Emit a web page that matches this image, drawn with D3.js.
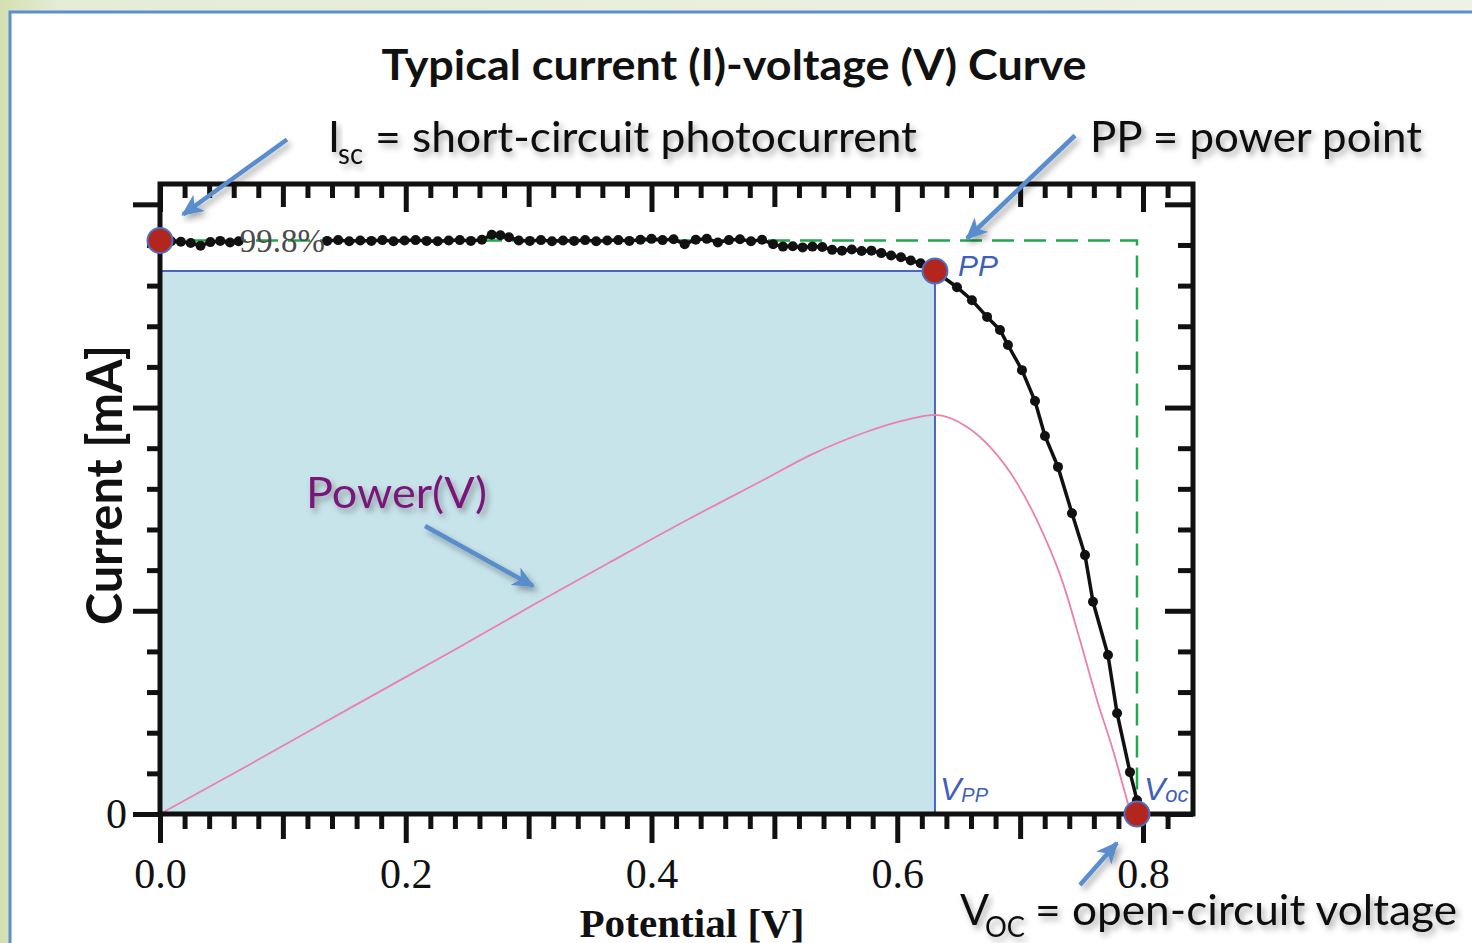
<!DOCTYPE html>
<html>
<head>
<meta charset="utf-8">
<script src="https://cdn.jsdelivr.net/npm/d3@7"></script>
<style>
  body { margin: 0; overflow: hidden; background: #fff }
  svg { display: block }
</style>
</head>
<body>
<svg id="chart" width="1472" height="943"></svg>
<script>
// I-V curve: [potential V, current (plot units)], null = gap under the 99.8% label
var ivCurve = [
  [0, 14.11], [.009, 14.09], [.017, 14.08], [.025, 14.05], [.033, 13.98], [.041, 14.07],
  [.049, 14.10], [.057, 14.06], [.064, 14.09], [.100, null],
  [.136, 14.10], [.145, 14.12], [.154, 14.09], [.163, 14.11], [.172, 14.10], [.181, 14.12],
  [.190, 14.09], [.199, 14.11], [.208, 14.12], [.217, 14.10], [.226, 14.09], [.235, 14.11],
  [.244, 14.12], [.253, 14.10], [.262, 14.13], [.270, 14.25], [.277, 14.24], [.284, 14.19],
  [.292, 14.11], [.301, 14.10], [.310, 14.12], [.319, 14.09], [.328, 14.11], [.337, 14.10],
  [.346, 14.12], [.355, 14.09], [.364, 14.11], [.373, 14.12], [.382, 14.10], [.391, 14.13],
  [.400, 14.15], [.409, 14.12], [.418, 14.14], [.427, 14.02], [.436, 14.13], [.445, 14.15],
  [.454, 14.06], [.463, 14.12], [.472, 14.14], [.481, 14.09], [.490, 14.13], [.499, 14.02],
  [.507, 13.96], [.515, 13.97], [.523, 13.94], [.531, 13.96], [.539, 13.95], [.547, 13.88],
  [.555, 13.86], [.563, 13.89], [.571, 13.85], [.579, 13.86], [.587, 13.80], [.595, 13.74],
  [.603, 13.70], [.611, 13.62], [.619, 13.55], [.6307, 13.36],
  [.6486, 12.96], [.6608, 12.64], [.6731, 12.23], [.6836, 11.91], [.6901, 11.54], [.7015, 10.92],
  [.7121, 10.16], [.7202, 9.30], [.7308, 8.54], [.7422, 7.40], [.7528, 6.37], [.7593, 5.22],
  [.7715, 3.91], [.7789, 2.48], [.7894, 1.03], [.7951, 0.34], [.7951, 0]
]

// power curve (pink), same vertical units
var powerCurve = [
  [0, 0], [.0749, 1.25], [.1579, 2.66], [.2409, 4.06], [.3036, 5.14], [.3654, 6.18],
  [.4281, 7.22], [.4899, 8.20], [.5314, 8.86], [.5729, 9.38], [.6063, 9.69], [.6307, 9.82],
  [.6568, 9.52], [.6755, 9.03], [.6975, 8.14], [.7186, 6.91], [.7349, 5.68], [.7487, 4.28],
  [.7626, 2.80], [.7756, 1.57], [.7870, 0.34], [.7902, 0]
]

var isc = [0, 14.11]
  , pp = [.6307, 13.36]
  , voc = [.7951, 0]

var xMajor = [0, .2, .4, .6, .8]
  , xMajorLabels = ['0.0', '0.2', '0.4', '0.6', '0.8']
  , xMid = [.1, .3, .5, .7]
  , xMinor = d3.range(0, 42).map(function (i) { return i * .02 }).filter(function (v) { return Math.round(v * 100) % 10 })
  , yMajor = [0, 5, 10, 15]
  , yMinor = d3.range(0, 16).filter(function (v) { return v % 5 })

var svg = d3.select('#chart')
var W = 1472, H = 943

var x = d3.scaleLinear().domain([0, .8]).range([160, 1143])
  , y = d3.scaleLinear().domain([0, 15.5]).range([814, 184])
  , pL = 160, pR = 1193, pT = 184, pB = 814

var defs = svg.append('defs')
var bg = defs.append('linearGradient').attr('id', 'bg').attr('x1', 0).attr('x2', 1).attr('y1', 0).attr('y2', 0)
bg.append('stop').attr('offset', 0).attr('stop-color', '#d3dfb2')
bg.append('stop').attr('offset', .04).attr('stop-color', '#e6ecd6')
bg.append('stop').attr('offset', 1).attr('stop-color', '#eff1e6')

defs.append('filter').attr('id', 'shadow')
  .attr('x', '-10%').attr('y', '-40%').attr('width', '130%').attr('height', '200%')
  .append('feDropShadow').attr('dx', 3).attr('dy', 4).attr('stdDeviation', 3)
  .attr('flood-color', '#000').attr('flood-opacity', .35)

defs.append('marker').attr('id', 'head')
  .attr('markerUnits', 'userSpaceOnUse')
  .attr('markerWidth', 26).attr('markerHeight', 22)
  .attr('refX', 20).attr('refY', 10).attr('orient', 'auto')
  .append('path').attr('d', 'M0,0 L22,10 L0,20 L6,10 z').attr('fill', '#5a8dcb')

// slide background + white panel
svg.append('rect').attr('width', W).attr('height', H).attr('fill', 'url(#bg)')
svg.append('rect').attr('x', 10).attr('y', 12).attr('width', W).attr('height', H)
  .attr('fill', '#fff').attr('stroke', '#5b8fd0').attr('stroke-width', 3)

// power rectangle under PP
svg.append('rect')
  .attr('x', x(0)).attr('y', y(pp[1]))
  .attr('width', x(pp[0]) - x(0)).attr('height', y(0) - y(pp[1]))
  .attr('fill', '#c8e4eb')
svg.append('path')
  .attr('d', d3.line()([[x(0), y(pp[1])], [x(pp[0]), y(pp[1])], [x(pp[0]), y(0)]]))
  .attr('fill', 'none').attr('stroke', '#4a66c0').attr('stroke-width', 2)

// green dashed Isc x Voc box
svg.append('path')
  .attr('d', d3.line()([[x(0), y(isc[1])], [x(voc[0]), y(isc[1])], [x(voc[0]), y(0)]]))
  .attr('fill', 'none').attr('stroke', '#1da84a').attr('stroke-width', 2.5)
  .attr('stroke-dasharray', '22,10')

// power curve
svg.append('path')
  .datum(powerCurve)
  .attr('d', d3.line().x(function (d) { return x(d[0]) }).y(function (d) { return y(d[1]) }).curve(d3.curveMonotoneX))
  .attr('fill', 'none').attr('stroke', '#ec7fae').attr('stroke-width', 1.8)

// axes: ticks of three lengths, thick like the scanned plot
function ticks(axis, vals, size, g) {
  g.call(axis.tickValues(vals).tickSize(size).tickFormat(''))
  g.select('.domain').remove()
  g.selectAll('.tick line').attr('stroke', '#111').attr('stroke-width', 5)
  return g
}
var gb = svg.append('g').attr('transform', 'translate(0,' + pB + ')')
  , gt = svg.append('g').attr('transform', 'translate(0,' + pT + ')')
  , gl = svg.append('g').attr('transform', 'translate(' + pL + ',0)')
  , gr = svg.append('g').attr('transform', 'translate(' + pR + ',0)')

ticks(d3.axisBottom(x), xMinor, 15, gb.append('g'))
ticks(d3.axisBottom(x), xMid, 25, gb.append('g'))
var gbm = gb.append('g')
gbm.call(d3.axisBottom(x).tickValues(xMajor).tickSize(29).tickPadding(15)
  .tickFormat(function (d, i) { return xMajorLabels[i] }))
gbm.select('.domain').remove()
gbm.selectAll('.tick line').attr('stroke', '#111').attr('stroke-width', 5)
gbm.selectAll('.tick text').attr('fill', '#111')
  .style('font-family', '"Liberation Serif", serif').style('font-size', '42px')

ticks(d3.axisBottom(x), xMinor, 14, gt.append('g'))
ticks(d3.axisBottom(x), xMid, 23, gt.append('g'))
ticks(d3.axisBottom(x), xMajor, 28, gt.append('g'))

ticks(d3.axisLeft(y), yMinor, 13, gl.append('g'))
var glm = gl.append('g')
glm.call(d3.axisLeft(y).tickValues(yMajor).tickSize(27).tickPadding(6)
  .tickFormat(function (d) { return d === 0 ? '0' : '' }))
glm.select('.domain').remove()
glm.selectAll('.tick line').attr('stroke', '#111').attr('stroke-width', 5)
glm.selectAll('.tick text').attr('fill', '#111')
  .style('font-family', '"Liberation Serif", serif').style('font-size', '42px')

ticks(d3.axisLeft(y), yMinor, 15, gr.append('g'))
ticks(d3.axisLeft(y), yMajor, 28, gr.append('g'))

svg.append('rect').attr('x', pL).attr('y', pT)
  .attr('width', pR - pL).attr('height', pB - pT)
  .attr('fill', 'none').attr('stroke', '#111').attr('stroke-width', 5)

// I-V measurement
var ivLine = d3.line()
  .defined(function (d) { return d[1] != null })
  .x(function (d) { return x(d[0]) }).y(function (d) { return y(d[1]) })
svg.append('path').datum(ivCurve).attr('d', ivLine)
  .attr('fill', 'none').attr('stroke', '#111').attr('stroke-width', 3.5)
svg.append('g').selectAll('circle')
  .data(ivCurve.filter(function (d) { return d[1] != null && d[1] > 0 }))
  .enter().append('circle')
  .attr('cx', function (d) { return x(d[0]) }).attr('cy', function (d) { return y(d[1]) })
  .attr('r', 5).attr('fill', '#111')

svg.append('text').text('99.8%')
  .attr('x', x(.065)).attr('y', y(isc[1]) + 12)
  .attr('textLength', 85).attr('lengthAdjust', 'spacingAndGlyphs')
  .attr('fill', '#4a4a4a').style('font-family', '"Liberation Serif", serif').style('font-size', '34px')

// key points
svg.append('g').selectAll('circle').data([isc, pp, voc])
  .enter().append('circle')
  .attr('cx', function (d) { return x(d[0]) }).attr('cy', function (d) { return y(d[1]) })
  .attr('r', 12.5).attr('fill', '#b3261e').attr('stroke', '#4f6fc4').attr('stroke-width', 2)

// italic point labels
var blue = '#3f5fb8'
function italic(main, sub, px, py, size, subSize) {
  var t = svg.append('text').attr('x', px).attr('y', py).attr('fill', blue)
    .style('font-family', '"Liberation Sans", Arial, sans-serif').style('font-style', 'italic').style('font-size', size + 'px')
  t.append('tspan').text(main)
  if (sub) t.append('tspan').text(sub).attr('dy', 2).style('font-size', subSize + 'px')
  return t
}
italic('PP', null, x(pp[0]) + 23, y(pp[1]) + 5, 30)
italic('V', 'PP', x(pp[0]) + 5, y(0) - 14, 32, 20)
italic('V', 'oc', x(voc[0]) + 7, y(0) - 14, 32, 22)

// titles and annotation text
function label(t, px, py, size, opts) {
  opts = opts || {}
  var s = svg.append('text').text(t).attr('x', px).attr('y', py)
    .attr('fill', opts.fill || '#111')
    .style('font-family', opts.family || 'Lato, "Open Sans", sans-serif')
    .style('font-size', size + 'px')
    .style('font-weight', opts.weight || 400)
  if (opts.len) s.attr('textLength', opts.len).attr('lengthAdjust', 'spacingAndGlyphs')
  if (opts.anchor) s.attr('text-anchor', opts.anchor)
  if (opts.shadow) s.attr('filter', 'url(#shadow)')
  return s
}

label('Typical current (I)-voltage (V) Curve', 734, 80, 42, { weight: 700, len: 705, anchor: 'middle' })

label('I', 328, 152, 43, { shadow: 1 })
label('sc', 338, 164, 29, { shadow: 1, len: 25 })
label('= short-circuit photocurrent', 375, 152, 43, { shadow: 1, len: 542 })

label('PP = power point', 1090, 152, 43, { shadow: 1, len: 332 })

label('V', 960, 925, 43, { shadow: 1 })
label('OC', 985, 937, 29, { shadow: 1, len: 40 })
label('= open-circuit voltage', 1035, 925, 43, { shadow: 1, len: 422 })

label('Power(V)', 306, 508, 43, { shadow: 1, len: 181, fill: '#7a1877' })

label('Current [mA]', 0, 0, 50, { weight: 700, len: 280, anchor: 'middle' })
  .attr('transform', 'translate(122,485) rotate(-90)')

label('Potential [V]', 692, 937, 40, { weight: 700, len: 225, anchor: 'middle', family: '"Liberation Serif", serif' })

// arrows (tail -> tip, placed relative to the point they mark)
var arrows = [
  [[x(isc[0]) + 127, y(isc[1]) - 101], [x(isc[0]) + 23, y(isc[1]) - 26]],
  [[x(.6568) + 108, y(isc[1]) - 105], [x(.6568), y(isc[1]) - 2]],
  [[x(.2157), y(5.14) - 79], [x(.3036), y(5.14) - 19]],
  [[x(voc[0]) - 57, y(0) + 71], [x(voc[0]) - 20, y(0) + 29]]
]
svg.append('g').attr('filter', 'url(#shadow)').selectAll('path').data(arrows)
  .enter().append('path')
  .attr('d', function (d) { return d3.line()(d) })
  .attr('fill', 'none').attr('stroke', '#5a8dcb').attr('stroke-width', 4.5)
  .attr('marker-end', 'url(#head)')
</script>
</body>
</html>
